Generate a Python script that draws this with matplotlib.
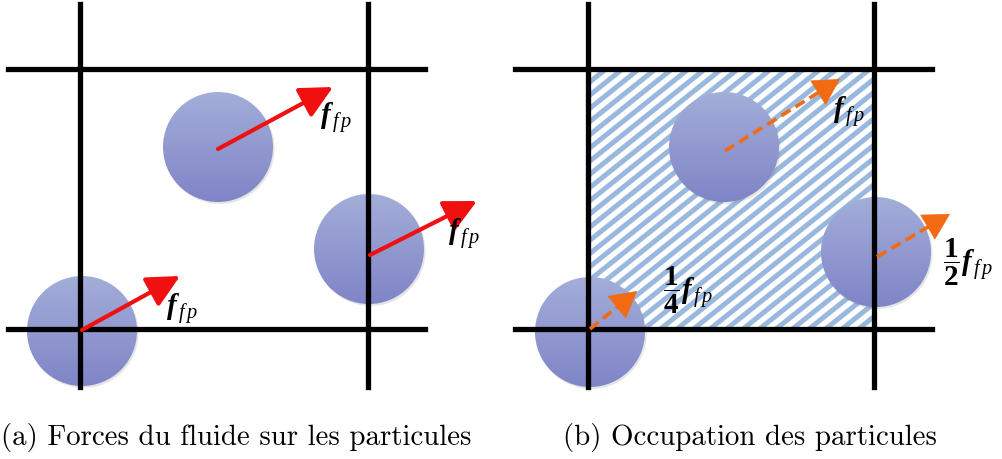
### schematic: fluid forces on particles + cell occupation
import numpy as np
import matplotlib
matplotlib.use("Agg")
import matplotlib.pyplot as plt
from matplotlib.patches import Circle, Rectangle

plt.rcParams['mathtext.fontset'] = 'custom'
plt.rcParams['mathtext.rm'] = 'Liberation Serif:bold'
plt.rcParams['mathtext.bf'] = 'Liberation Serif:bold:italic'
plt.rcParams['mathtext.it'] = 'Liberation Serif:italic'

### everything in pixel coords of the 1002x460 picture
# panel (a)
grid_a_x = [80, 368]
grid_a_y = [70, 330]
grid_a_span = (8, 425)
parts_a = [(218, 148), (369, 250), (82, 332)]
arrows_a = [((218, 150), (333, 88)), ((370, 256), (477, 202)), ((82, 331), (180, 277))]
labels_a = [(320, 118), (448, 234), (166, 310)]
texts_a = [r'$\mathbf{f}_{\,f\,p}$'] * 3

# panel (b)
grid_b_x = [588, 874]
grid_b_y = [70, 330]
grid_b_span = (515, 932)
parts_b = [(724, 148), (876, 253), (590, 333)]
arrows_b = [((725, 152), (840, 80)), ((877, 258), (950, 215)), ((590, 330), (637, 292))]
labels_b = [(833, 112), (943, 262), (663, 290)]
texts_b = [r'$\mathbf{f}_{\,f\,p}$', r'$\dfrac{1}{2}\mathbf{f}_{\,f\,p}$', r'$\dfrac{1}{4}\mathbf{f}_{\,f\,p}$']

captions = ["(a) Forces du fluide sur les particules", "(b) Occupation des particules"]
caption_x = [236, 750]

radius = 55
top_col = np.array([0.64, 0.68, 0.85])
bot_col = np.array([0.50, 0.52, 0.78])

fig = plt.figure(figsize=(10.02, 4.6), dpi=100)
ax = fig.add_axes([0, 0, 1, 1])
ax.set_xlim(0, 1002)
ax.set_ylim(460, 0)
ax.axis('off')

### hatched cell in (b)
x0, x1 = grid_b_x
y0, y1 = grid_b_y
cell = Rectangle((x0, y0), x1 - x0, y1 - y0, facecolor='white', edgecolor='none', zorder=1)
ax.add_patch(cell)
for xs in np.arange(x0 - 340, x1 + 10, 16.5):
    ln, = ax.plot([xs, xs + 260 / 0.8], [y1, y0], color='#98b8de', lw=3.6,
                  solid_capstyle='butt', zorder=1.5)
    ln.set_clip_path(cell)

def draw_grid(gx, gy, span):
    for xx in gx:
        ax.plot([xx, xx], [5, 388], color='black', lw=3.8, zorder=2)
    for yy in gy:
        ax.plot(span, [yy, yy], color='black', lw=3.8, zorder=2)

draw_grid(grid_a_x, grid_a_y, grid_a_span)
draw_grid(grid_b_x, grid_b_y, grid_b_span)

grad = np.linspace(0, 1, 100)[:, None, None] * (bot_col - top_col) + top_col
grad = np.repeat(grad, 2, axis=1)

def draw_particle(cx, cy, z):
    sh = Circle((cx + 1.5, cy + 2), radius, facecolor='0.45', edgecolor='none', alpha=0.18, zorder=z)
    ax.add_patch(sh)
    c = Circle((cx, cy), radius, facecolor='none', edgecolor='none', zorder=z)
    ax.add_patch(c)
    im = ax.imshow(grad, extent=[cx - radius, cx + radius, cy + radius, cy - radius],
                   aspect='auto', interpolation='bilinear', zorder=z + 0.1)
    im.set_clip_path(c)

for cx, cy in parts_a + parts_b:
    draw_particle(cx, cy, 1.6)

### force arrows
for (s, e), (lx, ly), t in zip(arrows_a, labels_a, texts_a):
    ax.annotate('', xy=e, xytext=s, zorder=4,
                arrowprops=dict(arrowstyle='-|>,head_length=0.9,head_width=0.45', color='#f01010',
                                lw=3, mutation_scale=22, shrinkA=0, shrinkB=0))
    ax.text(lx, ly, t, fontsize=21, ha='left', va='center', zorder=5)

orange = '#f26a12'
for (s, e), (lx, ly), t in zip(arrows_b, labels_b, texts_b):
    s = np.array(s, float)
    e = np.array(e, float)
    d = (e - s) / np.hypot(*(e - s))
    mid = e - d * 14
    ax.plot([s[0], mid[0]], [s[1], mid[1]], color=orange, lw=2.6, ls=(0, (3, 1.6)), zorder=4)
    ax.annotate('', xy=tuple(e), xytext=tuple(e - d * 20), zorder=4,
                arrowprops=dict(arrowstyle='-|>,head_length=0.9,head_width=0.5', color=orange,
                                lw=0.5, mutation_scale=20, shrinkA=0, shrinkB=0))
    ax.text(lx, ly, t, fontsize=21, ha='left', va='center', zorder=5)

for cap, cx in zip(captions, caption_x):
    ax.text(cx, 438, cap, fontsize=20.8, family='cmr10', ha='center', va='center')

fig.savefig("out.png", dpi=100)
